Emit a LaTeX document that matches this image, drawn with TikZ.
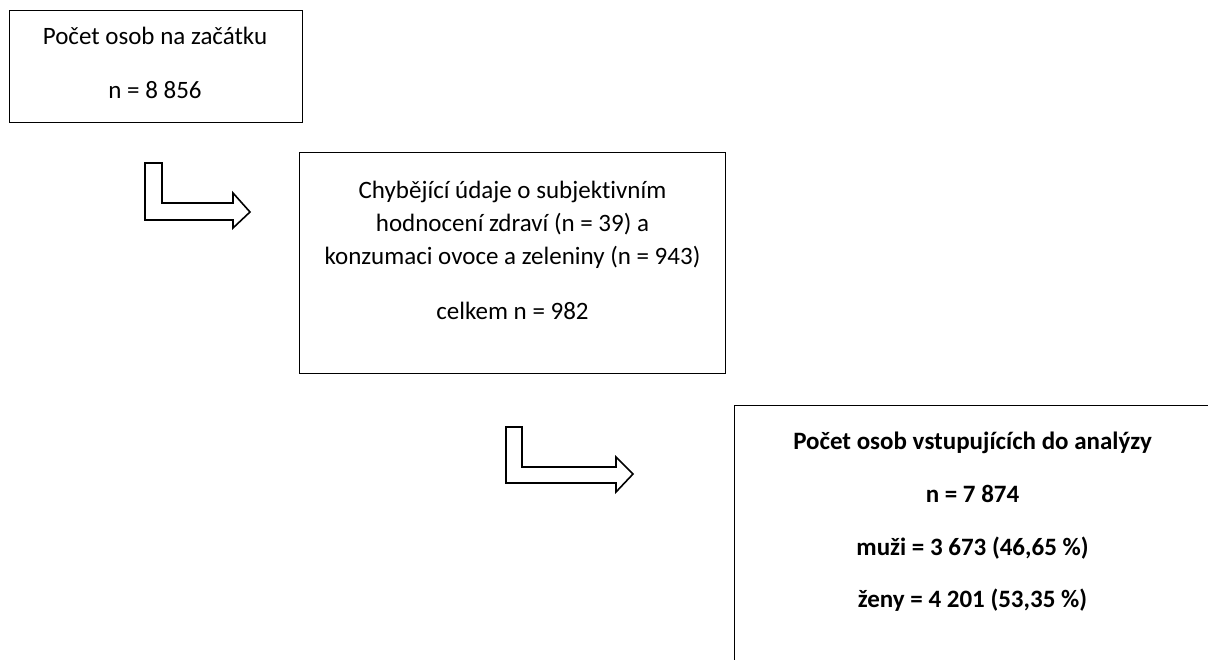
\documentclass[tikz,border=0pt]{standalone}
\usepackage{fontspec}
\setmainfont[Ligatures={NoCommon}]{Carlito}
\begin{document}
\begin{tikzpicture}[x=1pt,y=-1pt,
  boxstyle/.style={draw=black,line width=1.4pt,fill=white,inner sep=0pt,anchor=north west},
  txt/.style={anchor=base,inner sep=0pt,font=\fontsize{25}{30}\selectfont},
  btxt/.style={txt,font=\fontsize{25}{30}\selectfont\bfseries},
  barrow/.style={draw=black,line width=1.6pt,line join=miter,fill=white}]
\clip (0,0) rectangle (1208,660);
\fill[white] (0,0) rectangle (1208,660);
% boxes
\node[boxstyle,minimum width=293pt,minimum height=112pt] (b1) at (9,10) {};
\node[boxstyle,minimum width=426pt,minimum height=221pt] (b2) at (299,152) {};
\node[boxstyle,minimum width=477pt,minimum height=300pt] (b3) at (734,405) {};
% texts
\node[txt] (t11) at (155,45) {Počet osob na začátku};
\node[txt] (t12) at (155,99) {n = 8 856};
\node[txt] (t21) at (512.5,199) {Chybějící údaje o subjektivním};
\node[txt] (t22) at (512.5,232) {hodnocení zdraví (n = 39) a};
\node[txt] (t23) at (512.5,265) {konzumaci ovoce a zeleniny (n = 943)};
\node[txt] (t24) at (512.5,320) {celkem n = 982};
\node[btxt] (t31) at (972.5,449) {Počet osob vstupujících do analýzy};
\node[btxt] (t32) at (972.5,502) {n = 7 874};
\node[btxt] (t33) at (972.5,555) {muži = 3 673 (46,65 \%)};
\node[btxt] (t34) at (972.5,607) {ženy = 4 201 (53,35 \%)};
% bent arrows
\draw[barrow] (145,163) -- (162,163) -- (162,203) -- (233,203) -- (233,193) -- (250,212)
  -- (233,228) -- (233,220) -- (145,220) -- cycle;
\draw[barrow] (506,427) -- (522,427) -- (522,467) -- (616,467) -- (616,457) -- (633,474)
  -- (616,492) -- (616,483) -- (506,483) -- cycle;
\end{tikzpicture}
\end{document}
